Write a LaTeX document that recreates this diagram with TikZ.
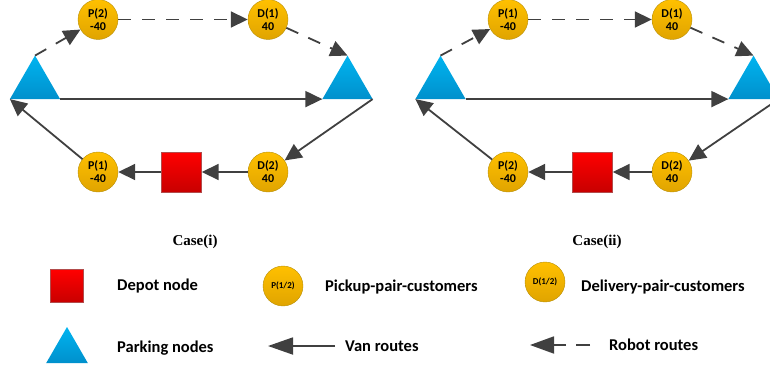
\documentclass[tikz,border=0pt]{standalone}
\usepackage{fontspec}
\setmainfont{Carlito}
\newfontfamily\casefont{Liberation Serif}
\usetikzlibrary{shapes.geometric,arrows.meta}
\definecolor{goldtop}{HTML}{FFC000}
\definecolor{goldbot}{HTML}{E0A400}
\definecolor{goldline}{HTML}{B8900A}
\definecolor{bluetop}{HTML}{00B4F0}
\definecolor{bluebot}{HTML}{0090CC}
\definecolor{redtop}{HTML}{FF0000}
\definecolor{redbot}{HTML}{C80000}
\definecolor{route}{HTML}{404040}

\begin{document}
\begin{tikzpicture}[x=1pt,y=-1pt]
\tikzstyle{every node}+=[inner sep=0pt]
\tikzstyle{cust}=[circle,draw=goldline,top color=goldtop,bottom color=goldbot,minimum size=40pt,align=center,font=\fontsize{12}{13}\selectfont\bfseries]
\tikzstyle{park}=[regular polygon,regular polygon sides=3,top color=bluetop,bottom color=bluebot,minimum size=58pt,outer sep=0pt]
\tikzstyle{depot}=[rectangle,draw=gray!60!red,top color=redtop,bottom color=redbot,minimum size=40pt]
\tikzstyle{van}=[draw=route,line width=1.8pt,-{Triangle[length=17pt,width=16pt]}]
\tikzstyle{robot}=[van,dash pattern=on 13pt off 11pt]
\tikzstyle{legend}=[anchor=west,font=\fontsize{16.5}{19}\selectfont\bfseries]
\tikzstyle{casename}=[font=\casefont\fontsize{15}{18}\selectfont\bfseries]
\clip (0,0) rectangle (770,372);
% case (i)
\node[park] (L1) at (35,84.6) {};
\node[park] (R1) at (347.5,84.6) {};
\node[cust] (Pt1) at (98,19.5) {P(2)\\-40};
\node[cust] (Dt1) at (268,19.5) {D(1)\\40};
\node[cust] (Db1) at (268,172) {D(2)\\40};
\node[depot] (S1) at (181.5,172) {};
\node[cust] (Pb1) at (98,172) {P(1)\\-40};
\draw[robot] (L1.corner 1) -- (Pt1);
\draw[robot] (Pt1) -- (Dt1);
\draw[robot] (Dt1) -- (R1.corner 1);
\draw[van] (L1.corner 3) -- (R1.corner 2);
\draw[van] (R1.corner 3) -- (Db1);
\draw[van] (Db1) -- (S1);
\draw[van] (S1) -- (Pb1);
\draw[van] (Pb1) -- (L1.corner 2);
\node[casename] (C1) at (195,242) {Case(i)};
% case (ii)
\node[park] (L2) at (440.5,84.6) {};
\node[park] (R2) at (753.5,84.6) {};
\node[cust] (Pt2) at (508,19.5) {P(1)\\-40};
\node[cust] (Dt2) at (672,19.5) {D(1)\\40};
\node[cust] (Db2) at (672,172) {D(2)\\40};
\node[depot] (S2) at (592.5,172) {};
\node[cust] (Pb2) at (508,172) {P(2)\\-40};
\draw[robot] (L2.corner 1) -- (Pt2);
\draw[robot] (Pt2) -- (Dt2);
\draw[robot] (Dt2) -- (R2.corner 1);
\draw[van] (L2.corner 3) -- (R2.corner 2);
\draw[van] (R2.corner 3) -- (Db2);
\draw[van] (Db2) -- (S2);
\draw[van] (S2) -- (Pb2);
\draw[van] (Pb2) -- (L2.corner 2);
\node[casename] (C2) at (597,242) {Case(ii)};
% legend
\node[depot,minimum size=33pt] (Sk) at (67,286) {};
\node[legend] (Sl) at (117,286) {Depot node};
\node[cust,font=\fontsize{9}{11}\selectfont\bfseries] (Pk) at (283,286) {P(1/2)};
\node[legend] (Pl) at (325,287) {Pickup-pair-customers};
\node[cust,font=\fontsize{9}{11}\selectfont\bfseries] (Dk) at (545,282) {D(1/2)};
\node[legend] (Dl) at (581,287) {Delivery-pair-customers};
\node[park,minimum size=48pt] (Lk) at (67,351) {};
\node[legend] (Ll) at (117,348) {Parking nodes};
\coordinate (va) at (335,346);
\coordinate (vb) at (268,346);
\draw[van,-{Triangle[length=25pt,width=17pt]}] (va) -- (vb);
\node[legend] (Vl) at (345,346) {Van routes};
\coordinate (ra) at (590,345);
\coordinate (rb) at (530,345);
\draw[van,dash pattern=on 14pt off 10pt,-{Triangle[length=24pt,width=17pt]}] (ra) -- (rb);
\node[legend] (Rl) at (609,345) {Robot routes};
\end{tikzpicture}
\end{document}
